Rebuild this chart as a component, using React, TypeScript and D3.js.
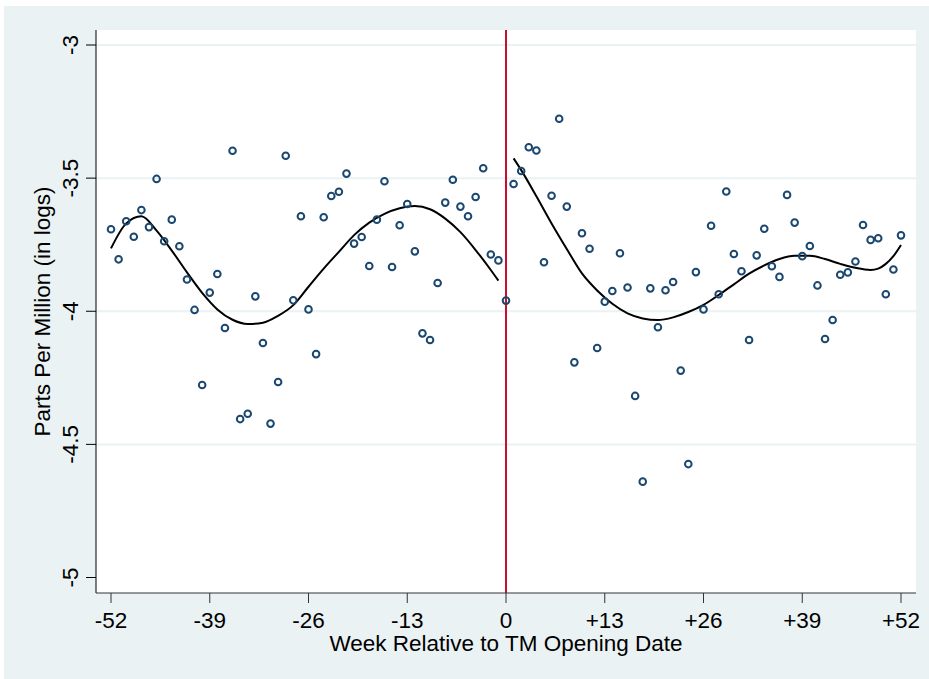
import React from "react";
import * as d3 from "d3";

const weeks: number[] = d3.range(-52, 53);
const values: number[] = [
  -3.692, -3.805, -3.662, -3.72, -3.62, -3.684, -3.503, -3.737, -3.656, -3.756,
  -3.881, -3.995, -4.277, -3.93, -3.86, -4.063, -3.397, -4.405, -4.385, -3.944,
  -4.119, -4.422, -4.266, -3.416, -3.959, -3.643, -3.993, -4.161, -3.647, -3.567,
  -3.551, -3.483, -3.746, -3.721, -3.83, -3.656, -3.512, -3.834, -3.677, -3.597,
  -3.775, -4.083, -4.108, -3.894, -3.592, -3.506, -3.607, -3.643, -3.571, -3.463,
  -3.787, -3.809, -3.96,
  -3.522, -3.473, -3.384, -3.396, -3.816, -3.566, -3.277, -3.607, -4.192, -3.707,
  -3.765, -4.138, -3.964, -3.924, -3.782, -3.911, -4.318, -4.64, -3.914, -4.06,
  -3.921, -3.89, -4.223, -4.574, -3.853, -3.993, -3.679, -3.936, -3.55, -3.785,
  -3.85, -4.108, -3.79, -3.69, -3.831, -3.871, -3.563, -3.667, -3.793, -3.755,
  -3.903, -4.104, -4.033, -3.863, -3.854, -3.813, -3.676, -3.732, -3.726, -3.936,
  -3.843, -3.715,
];

const preFitWeeks: number[] = [-52, -50, -48, -46, -44, -42, -40, -38, -36, -34, -32, -30, -28, -26, -24, -22, -20, -18, -16, -14, -12, -10, -8, -6, -4, -2, -1];
const preFitValues: number[] = [-3.764, -3.67, -3.643, -3.697, -3.772, -3.854, -3.931, -3.993, -4.032, -4.048, -4.043, -4.017, -3.977, -3.908, -3.84, -3.777, -3.714, -3.667, -3.634, -3.613, -3.605, -3.617, -3.652, -3.703, -3.77, -3.845, -3.885];

const postFitWeeks: number[] = [1, 2, 4, 6, 8, 10, 12, 14, 16, 18, 20, 22, 24, 26, 28, 30, 32, 34, 36, 38, 40, 42, 44, 46, 48, 49, 50, 51, 52];
const postFitValues: number[] = [-3.426, -3.47, -3.568, -3.67, -3.766, -3.858, -3.922, -3.972, -4.008, -4.027, -4.033, -4.023, -4.003, -3.976, -3.939, -3.899, -3.859, -3.828, -3.804, -3.792, -3.792, -3.804, -3.822, -3.837, -3.845, -3.84, -3.822, -3.793, -3.751];

const yTicks: number[] = [-3, -3.5, -4, -4.5, -5];
const yTickLabels: string[] = ["-3", "-3.5", "-4", "-4.5", "-5"];
const xTicks: number[] = [-52, -39, -26, -13, 0, 13, 26, 39, 52];
const xTickLabels: string[] = ["-52", "-39", "-26", "-13", "0", "+13", "+26", "+39", "+52"];

const W = 929;
const H = 679;
const plot = { left: 96, right: 916, top: 30, bottom: 593 };
const FONT = "'Liberation Sans', Arial, Helvetica, sans-serif";
const BG = "#EAF2F3";
const MARKER = "#1A476F";
const FS = 22.5;

export default function App() {
  const x = d3.scaleLinear().domain([-52, 52]).range([111, 901]);
  const y = d3.scaleLinear().domain([-3, -5]).range([45, 577.5]);

  const line = d3
    .line<[number, number]>()
    .x((d) => x(d[0]))
    .y((d) => y(d[1]))
    .curve(d3.curveMonotoneX);

  const pre = line(preFitWeeks.map((w, i) => [w, preFitValues[i]] as [number, number])) || "";
  const post = line(postFitWeeks.map((w, i) => [w, postFitValues[i]] as [number, number])) || "";

  return (
    <svg
      width={W}
      height={H}
      style={{ position: "absolute", left: 0, top: 0, display: "block" }}
      fontFamily={FONT}
    >
      <rect x={0} y={0} width={W} height={H} fill="#ffffff" />
      <rect x={4} y={6} width={W - 4} height={H - 6} fill={BG} />
      <rect
        x={plot.left}
        y={plot.top}
        width={plot.right - plot.left}
        height={plot.bottom - plot.top}
        fill="#ffffff"
      />
      {yTicks.slice(0, 4).map((t) => (
        <line
          key={"g" + t}
          x1={plot.left}
          x2={plot.right}
          y1={y(t)}
          y2={y(t)}
          stroke={BG}
          strokeWidth={2}
        />
      ))}
      <line x1={x(0)} x2={x(0)} y1={plot.top} y2={plot.bottom} stroke="#C8102E" strokeWidth={2} />
      <path d={pre} fill="none" stroke="#000" strokeWidth={2} />
      <path d={post} fill="none" stroke="#000" strokeWidth={2} />
      {weeks.map((w, i) => (
        <circle
          key={"p" + w}
          cx={x(w)}
          cy={y(values[i])}
          r={3.3}
          fill="none"
          stroke={MARKER}
          strokeWidth={2}
        />
      ))}
      <line x1={plot.left} x2={plot.left} y1={plot.top} y2={plot.bottom} stroke="#000" strokeWidth={1} />
      <line x1={plot.left} x2={plot.right} y1={plot.bottom} y2={plot.bottom} stroke="#333" strokeWidth={1} />
      {yTicks.map((t, i) => (
        <g key={"yt" + t}>
          <line x1={plot.left - 10} x2={plot.left} y1={y(t)} y2={y(t)} stroke="#000" strokeWidth={1} />
          <text
            transform={`translate(78,${y(t)}) rotate(-90)`}
            textAnchor="middle"
            fontSize={FS}
            fill="#000"
          >
            {yTickLabels[i]}
          </text>
        </g>
      ))}
      {xTicks.map((t, i) => (
        <g key={"xt" + t}>
          <line x1={x(t)} x2={x(t)} y1={plot.bottom} y2={plot.bottom + 10} stroke="#333" strokeWidth={1} />
          <text x={x(t)} y={628} textAnchor="middle" fontSize={FS} fill="#000">
            {xTickLabels[i]}
          </text>
        </g>
      ))}
      <text x={506} y={651} textAnchor="middle" fontSize={FS} fill="#000">
        Week Relative to TM Opening Date
      </text>
      <text
        transform={`translate(50,${(plot.top + plot.bottom) / 2}) rotate(-90)`}
        textAnchor="middle"
        fontSize={FS}
        fill="#000"
      >
        Parts Per Million (in logs)
      </text>
    </svg>
  );
}
